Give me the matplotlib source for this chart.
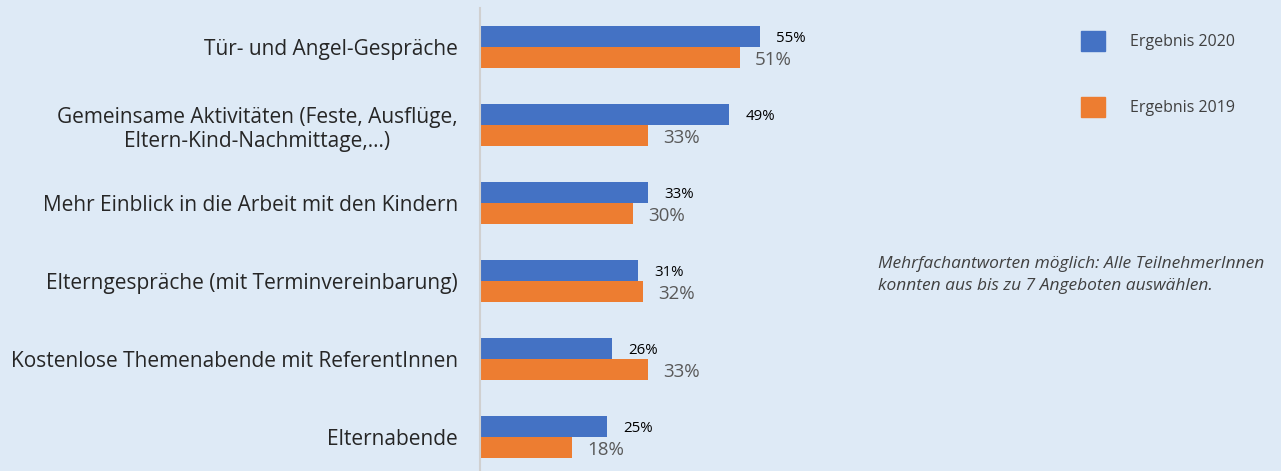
import matplotlib.pyplot as plt
from matplotlib.patches import Patch
import numpy as np

kategorien = [
    "Tür- und Angel-Gespräche",
    "Gemeinsame Aktivitäten (Feste, Ausflüge,\nEltern-Kind-Nachmittage,...)",
    "Mehr Einblick in die Arbeit mit den Kindern",
    "Elterngespräche (mit Terminvereinbarung)",
    "Kostenlose Themenabende mit ReferentInnen",
    "Elternabende",
]
werte_2020 = [55, 49, 33, 31, 26, 25]
werte_2019 = [51, 33, 30, 32, 33, 18]
legende = ["Ergebnis 2020", "Ergebnis 2019"]
hinweis = "Mehrfachantworten möglich: Alle TeilnehmerInnen\nkonnten aus bis zu 7 Angeboten auswählen."

BG = "#DEEAF6"
BLAU = "#4472C4"
ORANGE = "#ED7D31"

plt.rcParams["font.family"] = ["Open Sans", "DejaVu Sans"]

W, H = 1281, 471
fig = plt.figure(figsize=(W / 100, H / 100), dpi=100, facecolor=BG)

# achse: links bei x=480, 5.09 px pro Prozent
x0 = 480
px_pro_prozent = 5.09
xmax = 70
ax = fig.add_axes([x0 / W, 0, xmax * px_pro_prozent / W, (H - 8) / H])
ax.set_facecolor(BG)

y = np.arange(len(kategorien))
h = 0.263
ax.barh(y - h / 2, werte_2020, height=h, color=BLAU)
ax.barh(y + h / 2, werte_2019, height=h, color=ORANGE)

ax.set_xlim(0, xmax)
ax.set_ylim(5 + 34 / 78, -0.5)

for i, (a, b) in enumerate(zip(werte_2020, werte_2019)):
    ax.text(a + 3.2, i - h / 2 + 0.02, f"{a}%", va="center", ha="left",
            fontsize=10.8, color="black")
    ax.text(b + 3.0, i + h / 2 + 0.04, f"{b}%", va="center", ha="left",
            fontsize=13.5, color="#595959")

ax.set_yticks(y)
ax.set_yticklabels(kategorien, fontsize=15, color="#262626", multialignment="center")
ax.tick_params(axis="y", length=0, pad=16)
ax.set_xticks([])

for s in ["top", "right", "bottom"]:
    ax.spines[s].set_visible(False)
ax.spines["left"].set_color("#D0D0D0")
ax.spines["left"].set_linewidth(1.5)

handles = [Patch(color=BLAU), Patch(color=ORANGE)]
fig.legend(handles, legende, loc="upper left", bbox_to_anchor=(1067 / W, 1 - 17 / H),
           frameon=False, fontsize=11.5, labelcolor="#404040", handlelength=1.5,
           handleheight=1.5, handletextpad=1.55, labelspacing=2.9)

fig.text(878 / W, 1 - 275 / H, hinweis, fontsize=12.5, style="italic",
         color="#404040", va="center", ha="left", linespacing=1.45)

fig.savefig("out.png", dpi=100, facecolor=BG)
